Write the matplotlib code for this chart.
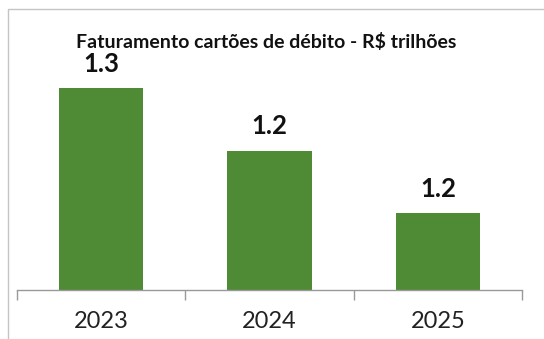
import matplotlib.pyplot as plt
from matplotlib.patches import Rectangle

# debit card turnover, R$ trillions
years = ["2023", "2024", "2025"]
values = [1.30, 1.23, 1.16]

bar_color = "#4f8a34"

plt.rcParams['font.family'] = ['Lato', 'DejaVu Sans']

fig = plt.figure(figsize=(5.44, 3.39), dpi=100)
ax = fig.add_axes([17 / 544, 1 - 290 / 339, (522 - 17) / 544, (290 - 9) / 339])

x = list(range(len(years)))
bars = ax.bar(x, values, width=0.5, color=bar_color, zorder=2)
ax.bar_label(bars, labels=[f"{v:.1f}" for v in values], padding=9,
             fontsize=18.5, fontweight='bold', color='#111111')

ax.set_xlim(-0.5, len(years) - 0.5)
ax.set_ylim(1.0738, 1.0738 + 281 / 893)

# category ticks sit on the boundaries, labels in between
ax.set_xticks([i - 0.5 for i in range(len(years) + 1)])
ax.set_xticklabels([])
ax.set_xticks(x, minor=True)
ax.set_xticklabels(years, minor=True, fontsize=17, color='#222222')
ax.tick_params(axis='x', which='major', direction='out', length=7,
               width=1, color='#999999')
ax.tick_params(axis='x', which='minor', length=0, pad=15)
ax.set_yticks([])

for side in ['top', 'right', 'left']:
    ax.spines[side].set_visible(False)
ax.spines['bottom'].set_color('#999999')
ax.spines['bottom'].set_linewidth(1)

# chart border, cut at the right and bottom edges
fig.patches.append(Rectangle((8 / 544, -0.05), 1.0, 1 - 9 / 339 + 0.05,
                             transform=fig.transFigure, fill=False,
                             edgecolor='#c4c4c4', linewidth=1))

fig.text(266 / 544, 1 - 42 / 339, "Faturamento cartões de débito - R$ trilhões",
         ha='center', va='center', fontsize=14, fontweight='bold',
         color='#111111')

fig.savefig("out.png", dpi=100)
